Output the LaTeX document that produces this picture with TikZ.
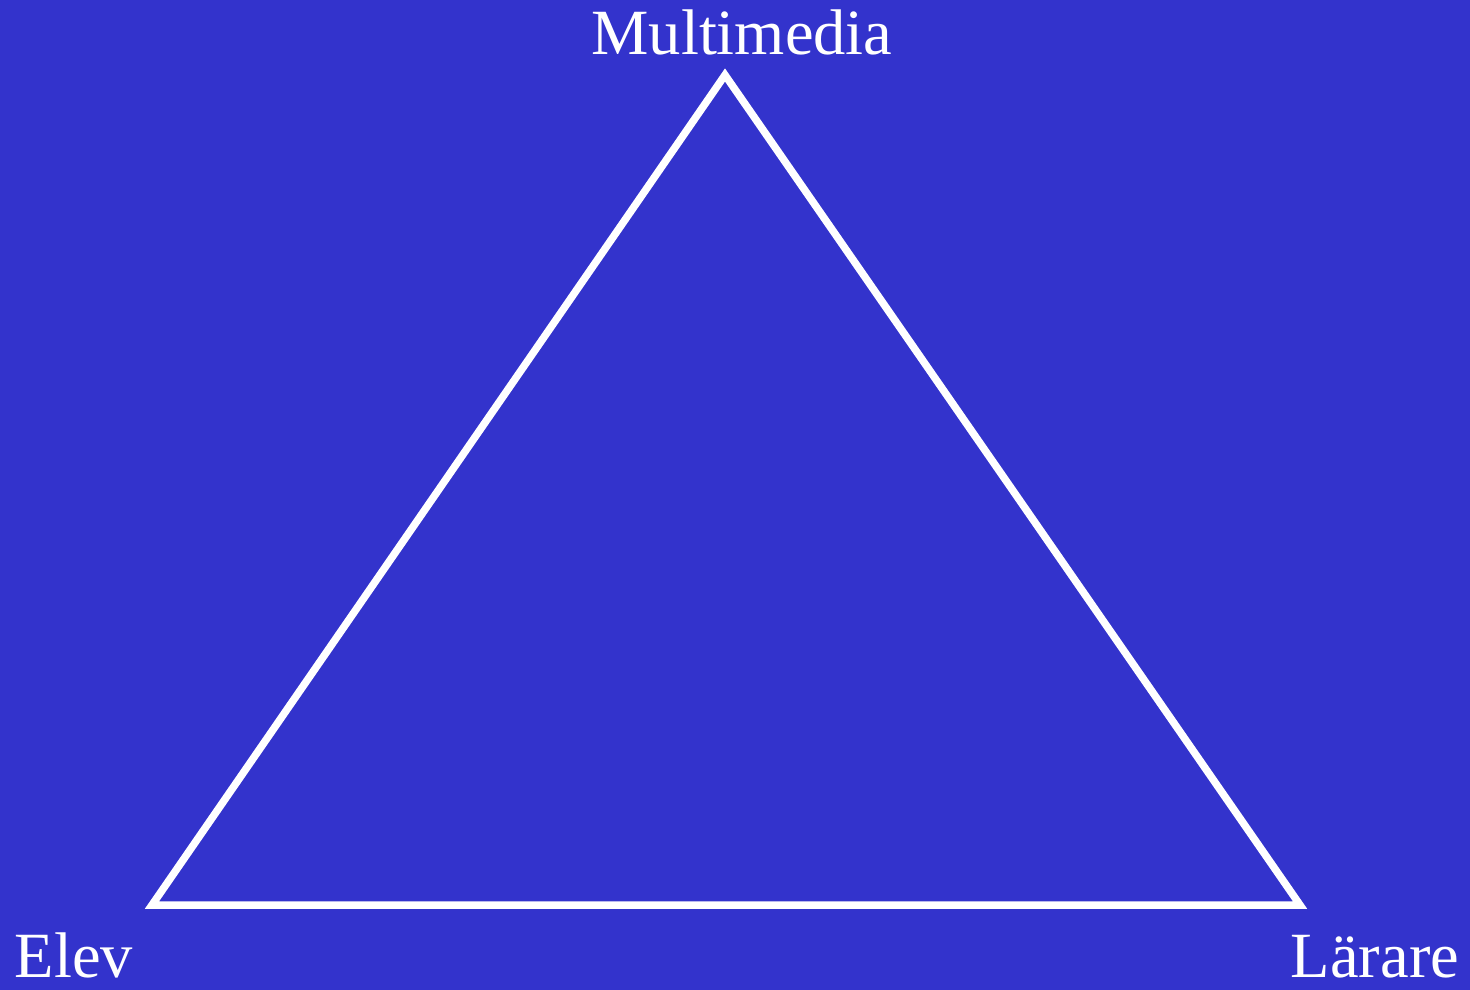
\documentclass[tikz,border=0pt]{standalone}
\usepackage{fontspec}
\setmainfont{Liberation Serif}
\definecolor{bgblue}{HTML}{3333CC}
\begin{document}
\begin{tikzpicture}[x=1pt,y=-1pt,
  lbl/.style={text=white,font=\fontsize{64.5}{70}\selectfont,inner sep=0pt,anchor=base},
  edge/.style={draw=white,line width=7.5pt,line join=miter}]
\fill[bgblue] (0,0) rectangle (1470,990);
\useasboundingbox (0,0) rectangle (1470,990);
\coordinate (T) at (725,75);
\coordinate (L) at (152,905);
\coordinate (R) at (1300,905);
\draw[edge] (T) -- (L) -- (R) -- cycle;
\node[lbl] (m) at (742,55) {Multimedia};
\node[lbl] (e) at (74,977) {Elev};
\node[lbl] (l) at (1375,977) {Lärare};
\end{tikzpicture}
\end{document}
